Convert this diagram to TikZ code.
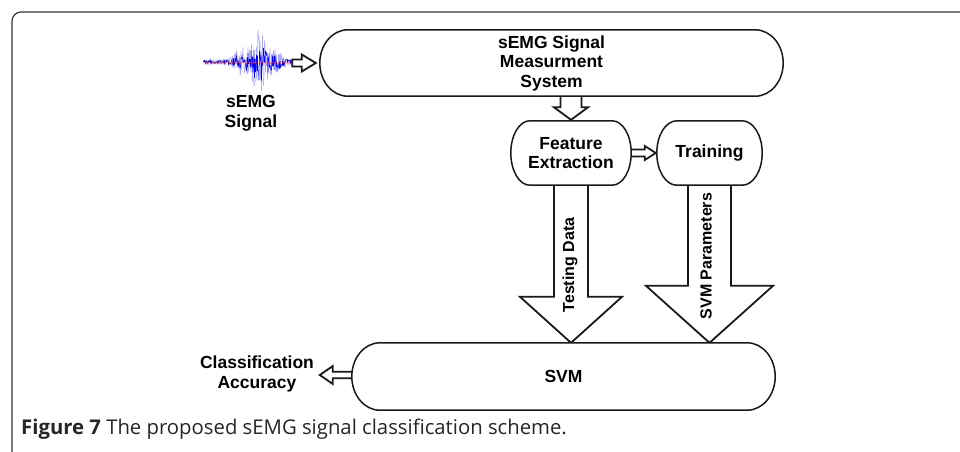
\documentclass[tikz,border=0pt]{standalone}
\usepackage{fontspec}
\setmainfont{Liberation Sans}
\newfontfamily\capfont{Open Sans}
\usetikzlibrary{calc}
\pgfdeclarelayer{bglayer}
\pgfdeclarelayer{arrowlayer}
\pgfdeclarelayer{boxlayer}
\pgfsetlayers{bglayer,arrowlayer,boxlayer,main}

\newcommand\capsule[2]{%
 \draw[boxline] let \p1=(#1.north west), \p2=(#1.south east), \n1={(\y1-\y2)/2} in
 ({\x1+#2},\y1) -- ({\x2-#2},\y1) arc[start angle=90,end angle=-90,x radius=#2,y radius={\n1*1pt}]
 -- ({\x1+#2},\y2) arc[start angle=270,end angle=90,x radius=#2,y radius={\n1*1pt}] -- cycle;}
\newcommand\varrowshape[5]{%
 \draw[hollow] let \p1=(#1), \p2=(#2) in
 ({\x2-#3},\y1) -- ({\x2-#3},{\y2+#5}) -- ({\x2-#4},{\y2+#5}) -- (\x2,\y2)
 -- ({\x2+#4},{\y2+#5}) -- ({\x2+#3},{\y2+#5}) -- ({\x2+#3},\y1) -- cycle;}
\newcommand\harrowshape[5]{%
 \draw[hollow] let \p1=(#1), \p2=(#2) in
 (\x1,{\y2-#3}) -- ({\x2-(#5)},{\y2-#3}) -- ({\x2-(#5)},{\y2-#4}) -- (\x2,\y2)
 -- ({\x2-(#5)},{\y2+#4}) -- ({\x2-(#5)},{\y2+#3}) -- (\x1,{\y2+#3}) -- cycle;}

\tikzset{
 lbl/.style={font=\bfseries\fontsize{17.5}{19.5}\selectfont, align=center, inner sep=0pt},
 rlbl/.style={font=\bfseries\fontsize{16}{19}\selectfont, inner sep=0pt, rotate=90},
 box/.style={inner sep=0pt, align=center, font=\bfseries\fontsize{17.5}{19.5}\selectfont},
 boxline/.style={draw=black!90, line width=1.5pt, fill=white},
 hollow/.style={draw=black!90, line width=1.8pt, fill=white, line join=miter},
 declare function={env(\t)=2.5+24*exp(-(\t-56)*(\t-56)/90)+9*exp(-(\t-38)*(\t-38)/60)+7*exp(-(\t-74)*(\t-74)/70);}
}

\begin{document}
\begin{tikzpicture}[x=1pt,y=-1pt]
\useasboundingbox (0,0) rectangle (960,451);
\begin{pgfonlayer}{bglayer}
\fill[white] (0,0) rectangle (960,451);
\end{pgfonlayer}

% frame
\draw[black!80, line width=1.2pt, rounded corners=9pt] (12,480) -- (12,12) -- (990,12);

% nodes
\node[box, minimum width=463pt, minimum height=66pt] (top) at (551.5,63) {sEMG Signal\\Measurment\\System};
\node[box, minimum width=120pt, minimum height=64pt] (fe) at (571,153) {Feature\\Extraction};
\node[box, minimum width=105pt, minimum height=64pt] (tr) at (709.5,153) {Training};
\node[box, minimum width=423pt, minimum height=67pt] (svm) at (563.5,376.5) {SVM};
\node[inner sep=0pt, minimum width=89pt, minimum height=60pt] (sig) at (247.5,62) {};
\node[lbl] (siglbl) at (251,113) {sEMG\\Signal};
\node[lbl] (acc) at (257,374) {Classification\\Accuracy};
\node[rlbl] (tdlbl) at (570,265) {Testing Data};
\node[rlbl] (svmp) at (706,256) {SVM Parameters};
\node[anchor=base west, inner sep=0pt, font=\capfont\fontsize{20.3}{23}\selectfont, text=black!85] (cap) at (21,434)
 {\textbf{Figure 7} The proposed sEMG signal classification scheme.};

% waveform
\pgfmathsetseed{11}
\draw[blue!55, line width=0.45pt, opacity=0.6] (203,62) \foreach \i in {1,...,178} { -- ({203+\i*0.5},{62+1.25*env(\i*0.5)*rand}) };
\pgfmathsetseed{5}
\draw[blue, line width=0.5pt] (203,62) \foreach \i in {1,...,178} { -- ({203+\i*0.5},{62+0.75*env(\i*0.5)*rand}) };
\draw[red!70, line width=0.3pt, opacity=0.5] (204,62) -- (291,62);

% boxes
\begin{pgfonlayer}{boxlayer}
 \capsule{top}{28pt}
 \capsule{fe}{19pt}
 \capsule{tr}{20pt}
 \capsule{svm}{28pt}
\end{pgfonlayer}

% arrows
\begin{pgfonlayer}{arrowlayer}
 \coordinate (sigtip) at ($(top.west)+(-4pt,0pt)$);
 \harrowshape{sig.east}{sigtip}{3.5pt}{8.5pt}{14pt}
 \coordinate (fetip) at ($(fe.north)+(0pt,1pt)$);
 \varrowshape{top.center}{fetip}{10.5pt}{17pt}{12.5pt}
 \coordinate (trtip) at ($(tr.west)+(-1pt,0pt)$);
 \harrowshape{fe.center}{trtip}{3.5pt}{7pt}{11pt}
 \coordinate (tdtip) at (fe.center |- svm.north);
 \varrowshape{fe.center}{tdtip}{17pt}{51pt}{46pt}
 \coordinate (sptip) at (tr.center |- svm.north);
 \varrowshape{tr.center}{sptip}{21.5pt}{63.5pt}{57pt}
 \coordinate (acctip) at ($(svm.west)+(-32pt,1.5pt)$);
 \harrowshape{svm.center}{acctip}{3.3pt}{9pt}{-13pt}
\end{pgfonlayer}
\end{tikzpicture}
\end{document}
